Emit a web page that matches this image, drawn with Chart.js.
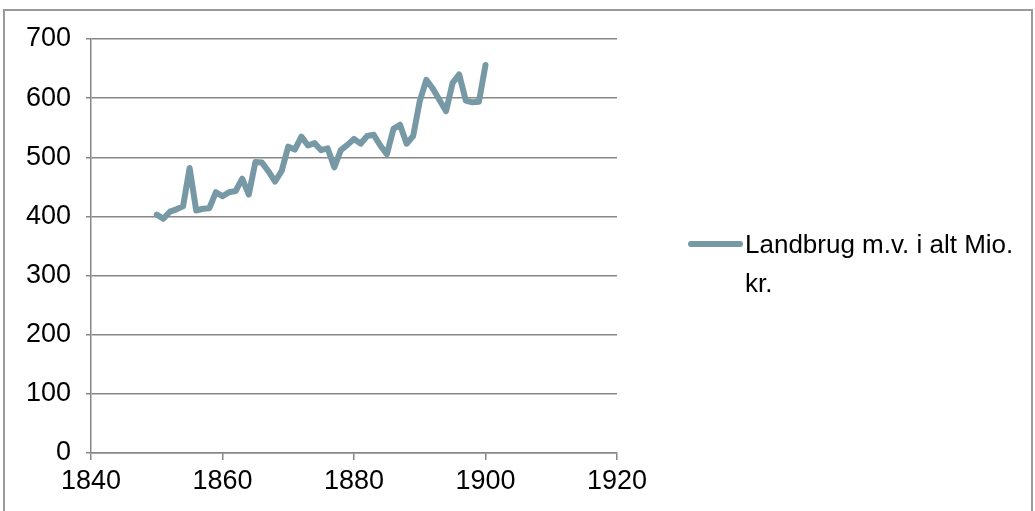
<!DOCTYPE html>
<html>
<head>
<meta charset="utf-8">
<script src="https://cdn.jsdelivr.net/npm/chart.js@4/dist/chart.umd.min.js"></script>
<style>
  html, body { margin: 0; padding: 0; background: #fff; }
  body { width: 1035px; height: 511px; position: relative; overflow: hidden; font-family: "Liberation Sans", Arial, sans-serif; }
  #frame { position: absolute; left: 3px; top: 9px; width: 1026px; height: 600px; border: 2px solid #9a9a9a; }
  #wrap { position: absolute; left: 0; top: 0; width: 1035px; height: 511px; }
  #legend-line { position: absolute; left: 688px; top: 241px; width: 55px; height: 6px; border-radius: 3px; background: #7799a6; }
  #legend-text { position: absolute; left: 745px; top: 225px; font-size: 26px; line-height: 39px; color: #000; }
</style>
</head>
<body>
<div id="frame"></div>
<div id="wrap"><canvas id="chart" width="1035" height="511"></canvas></div>
<div id="legend-line"></div>
<div id="legend-text">Landbrug m.v. i alt Mio.<br>kr.</div>
<script>
// years 1850-1900 and the series
const years = [
  1850, 1851, 1852, 1853, 1854, 1855, 1856, 1857, 1858, 1859,
  1860, 1861, 1862, 1863, 1864, 1865, 1866, 1867, 1868, 1869,
  1870, 1871, 1872, 1873, 1874, 1875, 1876, 1877, 1878, 1879,
  1880, 1881, 1882, 1883, 1884, 1885, 1886, 1887, 1888, 1889,
  1890, 1891, 1892, 1893, 1894, 1895, 1896, 1897, 1898, 1899,
  1900
];
const landbrug = [
  403, 396, 408, 412, 417, 482, 410, 413, 414, 441,
  434, 441, 443, 464, 437, 492, 491, 476, 459, 477,
  518, 513, 535, 520, 524, 512, 515, 483, 512, 521,
  531, 523, 536, 538, 520, 505, 548, 555, 523, 536,
  595, 631, 616, 597, 578, 626, 640, 596, 593, 594,
  656
];
const seriesName = "Landbrug m.v. i alt Mio. kr.";
const xTicks = [1840, 1860, 1880, 1900, 1920];
const yTicks = [0, 100, 200, 300, 400, 500, 600, 700];

const gridColor = "#878787";
const lineColor = "#7799a6";

new Chart(document.getElementById("chart"), {
  type: "scatter",
  data: {
    datasets: [{
      label: seriesName,
      data: years.map((y, i) => ({ x: y, y: landbrug[i] })),
      showLine: true,
      borderColor: lineColor,
      borderWidth: 6,
      borderJoinStyle: "round",
      borderCapStyle: "round",
      pointRadius: 0,
      tension: 0
    }]
  },
  options: {
    responsive: false,
    animation: false,
    layout: { padding: { top: 39, right: 418, left: 0, bottom: 0 } },
    plugins: {
      legend: { display: false },
      tooltip: { enabled: false }
    },
    scales: {
      x: {
        type: "linear",
        min: 1840,
        max: 1920,
        afterBuildTicks: axis => { axis.ticks = xTicks.map(v => ({ value: v })); },
        afterFit: axis => { axis.height = 58; },
        grid: { drawOnChartArea: false, drawTicks: true, tickLength: 7, color: gridColor, lineWidth: 1.5 },
        border: { display: true, color: gridColor, width: 1.5 },
        ticks: {
          color: "#000",
          padding: 5,
          maxRotation: 0,
          font: { family: "Liberation Sans", size: 27 },
          callback: v => String(v)
        }
      },
      y: {
        min: 0,
        max: 700,
        afterBuildTicks: axis => { axis.ticks = yTicks.map(v => ({ value: v })); },
        afterFit: axis => { axis.width = 91; },
        grid: { drawTicks: true, tickLength: 5, color: gridColor, lineWidth: 1.5 },
        border: { display: true, color: gridColor, width: 1.5 },
        ticks: {
          color: "#000",
          padding: 15,
          font: { family: "Liberation Sans", size: 27 },
          callback: v => String(v)
        }
      }
    }
  }
});
</script>
</body>
</html>
